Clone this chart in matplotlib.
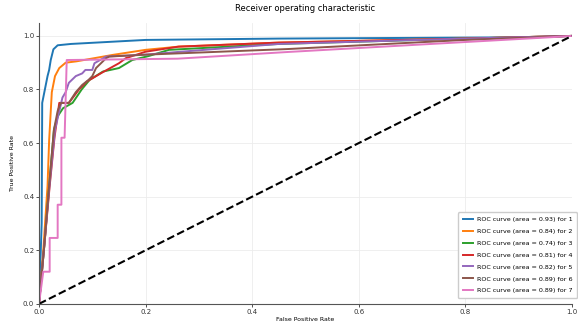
import matplotlib
matplotlib.use("Agg")
import matplotlib.pyplot as plt

classes = ["1", "2", "3", "4", "5", "6", "7"]
areas = [0.93, 0.84, 0.74, 0.81, 0.82, 0.89, 0.89]
colors = ["#1f77b4", "#ff7f0e", "#2ca02c", "#d62728", "#9467bd", "#8c564b", "#e377c2"]

fpr_1 = [0.0, 0.005, 0.006, 0.016, 0.019, 0.022, 0.027, 0.035, 0.06, 0.2, 0.45, 0.93, 1.0]
tpr_1 = [0.0, 0.30, 0.75, 0.85, 0.873, 0.91, 0.95, 0.965, 0.97, 0.985, 0.99, 0.995, 1.0]

fpr_2 = [0.0, 0.008, 0.016, 0.019, 0.024, 0.03, 0.038, 0.05, 0.07, 0.138, 0.2, 0.262, 0.45, 0.8, 1.0]
tpr_2 = [0.0, 0.20, 0.44, 0.61, 0.79, 0.85, 0.88, 0.90, 0.905, 0.929, 0.948, 0.96, 0.975, 0.99, 1.0]

fpr_3 = [0.0, 0.01, 0.019, 0.028, 0.035, 0.045, 0.063, 0.08, 0.095, 0.12, 0.15, 0.175, 0.206, 0.244, 0.45, 0.8, 1.0]
tpr_3 = [0.0, 0.22, 0.44, 0.65, 0.70, 0.73, 0.75, 0.80, 0.836, 0.867, 0.88, 0.91, 0.925, 0.948, 0.97, 0.99, 1.0]

fpr_4 = [0.0, 0.01, 0.02, 0.029, 0.038, 0.056, 0.075, 0.09, 0.12, 0.15, 0.163, 0.2, 0.262, 0.45, 0.8, 1.0]
tpr_4 = [0.0, 0.22, 0.44, 0.62, 0.75, 0.75, 0.80, 0.83, 0.865, 0.898, 0.917, 0.941, 0.96, 0.975, 0.99, 1.0]

fpr_5 = [0.0, 0.01, 0.02, 0.03, 0.044, 0.05, 0.056, 0.069, 0.081, 0.087, 0.1, 0.104, 0.126, 0.2, 0.26, 0.45, 0.8, 1.0]
tpr_5 = [0.0, 0.22, 0.45, 0.65, 0.77, 0.79, 0.825, 0.85, 0.86, 0.873, 0.873, 0.898, 0.923, 0.93, 0.94, 0.97, 0.99, 1.0]

fpr_6 = [0.0, 0.01, 0.019, 0.028, 0.035, 0.041, 0.056, 0.069, 0.081, 0.093, 0.1, 0.107, 0.126, 0.132, 0.2, 0.467, 0.8, 1.0]
tpr_6 = [0.0, 0.22, 0.44, 0.65, 0.72, 0.75, 0.75, 0.79, 0.817, 0.836, 0.85, 0.88, 0.917, 0.923, 0.93, 0.951, 0.985, 1.0]

fpr_7 = [0.0, 0.008, 0.02, 0.02, 0.035, 0.035, 0.042, 0.042, 0.048, 0.052, 0.26, 0.467, 0.96, 1.0]
tpr_7 = [0.0, 0.12, 0.12, 0.246, 0.246, 0.37, 0.37, 0.62, 0.62, 0.91, 0.915, 0.94, 0.995, 1.0]

fprs = [fpr_1, fpr_2, fpr_3, fpr_4, fpr_5, fpr_6, fpr_7]
tprs = [tpr_1, tpr_2, tpr_3, tpr_4, tpr_5, tpr_6, tpr_7]

fig = plt.figure(figsize=(5.78, 3.31), dpi=100)
ax = fig.add_axes([0.0675, 0.082, 0.922, 0.85])

for f, t, a, c, name in zip(fprs, tprs, areas, colors, classes):
    ax.plot(f, t, color=c, lw=1.4, label="ROC curve (area = %0.2f) for %s" % (a, name))
ax.plot([0, 1], [0, 1], "k--", lw=1.5)

ax.set_xlim(0.0, 1.0)
ax.set_ylim(0.0, 1.05)
ax.set_xticks([0.0, 0.2, 0.4, 0.6, 0.8, 1.0])
ax.set_yticks([0.0, 0.2, 0.4, 0.6, 0.8, 1.0])
ax.tick_params(labelsize=5, length=2, width=0.6, colors="#333333", pad=1.5)
ax.grid(True, color="#ececec", lw=0.6)
for s in ["top", "right"]:
    ax.spines[s].set_visible(False)
for s in ["left", "bottom"]:
    ax.spines[s].set_color("#555555")
    ax.spines[s].set_linewidth(0.8)

ax.set_title("Receiver operating characteristic", fontsize=6, pad=8)
ax.set_xlabel("False Positive Rate", fontsize=4.5, labelpad=2)
ax.set_ylabel("True Positive Rate", fontsize=4.5, labelpad=6)
ax.legend(loc="lower right", bbox_to_anchor=(0.998, 0.1), bbox_transform=fig.transFigure,
          borderaxespad=0, fontsize=4.6, frameon=True, framealpha=1,
          edgecolor="#cccccc", handlelength=1.6, handletextpad=0.6,
          labelspacing=1.0, borderpad=0.7)

fig.savefig("out.png", dpi=100)
